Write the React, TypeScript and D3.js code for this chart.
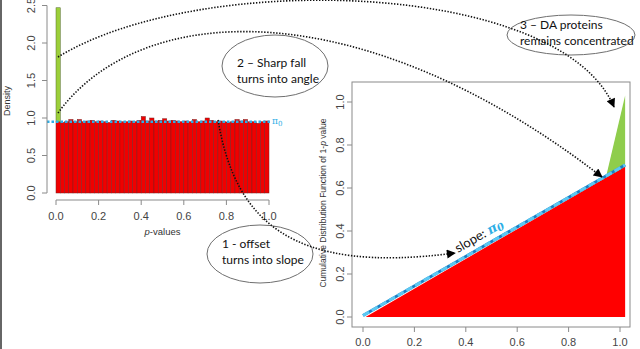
import React, { useEffect, useRef } from 'react'
import * as d3 from 'd3'

// histogram of p-values (50 bins of 0.02)
const binWidth = 0.02
const densities = [
  0.95, 0.94, 0.95, 0.98, 0.95, 0.98, 0.95, 0.96, 0.97, 0.95,
  0.96, 0.95, 0.94, 0.97, 0.96, 0.95, 0.95, 0.96, 0.95, 0.97,
  1.02, 0.96, 1.0, 0.96, 0.97, 0.99, 0.96, 0.97, 0.96, 0.95,
  0.96, 0.95, 0.98, 0.95, 0.96, 1.0, 0.97, 0.95, 0.96, 0.95,
  0.94, 0.95, 0.98, 0.96, 0.98, 0.95, 0.95, 0.93, 0.95, 0.96,
]
const daPeak = 2.47
const pi0 = 0.95

const leftYTicks = [0, 0.5, 1, 1.5, 2, 2.5]
const leftXTicks = [0, 0.2, 0.4, 0.6, 0.8, 1]
const rightTicks = [0, 0.2, 0.4, 0.6, 0.8, 1]

// CDF of 1-p value
const nullArea: [number, number][] = [[0.01, 0], [1.02, 0.7], [1.02, 0]]
const daArea: [number, number][] = [[0.945, 0.649], [1.02, 1.03], [1.02, 0.7]]
const slopeLine: [number, number][] = [[0, 0], [1.02, 0.7]]

const notes = [
  { lines: ['1 - offset', 'turns into slope'], cx: 260, cy: 254, rx: 53, ry: 29, ty: 248 },
  { lines: ['2 \u2013 Sharp fall', 'turns into angle'], cx: 275, cy: 66, rx: 53, ry: 31, ty: 67 },
  { lines: ['3 \u2013 DA proteins', 'remains concentrated'], cx: 571, cy: 35, rx: 64, ry: 20, ty: 29 },
]

const fmt = d3.format('.1f')

export default function App() {
  const svgRef = useRef<SVGSVGElement>(null)

  useEffect(() => {
    if (!svgRef.current) return
    const svg = d3.select(svgRef.current)
    svg.selectAll('*').remove()

    const axisCol = '#8a8a8a'
    const textCol = '#444'
    const blue = '#2eaee6'

    svg.append('line').attr('x1', 1).attr('x2', 1).attr('y1', 0).attr('y2', 349)
      .attr('stroke', '#666').attr('stroke-width', 2)

    // ---------- left panel: histogram ----------
    const lx = d3.scaleLinear().domain([0, 1]).range([56, 269])
    const ly = d3.scaleLinear().domain([0, 2.5]).range([193, 5.5])
    const left = svg.append('g')

    left.selectAll('rect.bar')
      .data(densities)
      .join('rect')
      .attr('class', 'bar')
      .attr('x', (d, i) => lx(i * binWidth))
      .attr('width', lx(binWidth) - lx(0))
      .attr('y', (d) => ly(d))
      .attr('height', (d) => ly(0) - ly(d))
      .attr('fill', '#f00000')
      .attr('stroke', '#7a2020')
      .attr('stroke-width', 0.5)

    left.append('rect')
      .attr('x', lx(0))
      .attr('width', lx(binWidth) - lx(0))
      .attr('y', ly(daPeak))
      .attr('height', ly(densities[0]) - ly(daPeak))
      .attr('fill', '#9ccf3a')
      .attr('stroke', '#556b2f')
      .attr('stroke-width', 0.5)

    left.append('line')
      .attr('x1', 47).attr('x2', 272)
      .attr('y1', ly(pi0)).attr('y2', ly(pi0))
      .attr('stroke', blue).attr('stroke-width', 2.5)
      .attr('stroke-dasharray', '2.5,2')
    left.append('text').attr('x', 272).attr('y', ly(pi0) + 2)
      .attr('fill', blue).style('font-family', 'DejaVu Serif').style('font-size', '9px')
      .text('\u03c0')
      .append('tspan').attr('dy', 2).style('font-size', '7px').text('0')

    // y axis
    left.append('line').attr('x1', 47).attr('x2', 47)
      .attr('y1', ly(0)).attr('y2', ly(2.5)).attr('stroke', axisCol)
    leftYTicks.forEach((t) => {
      left.append('line').attr('x1', 42).attr('x2', 47)
        .attr('y1', ly(t)).attr('y2', ly(t)).attr('stroke', axisCol)
      left.append('text')
        .attr('transform', `translate(35,${ly(t)}) rotate(-90)`)
        .attr('text-anchor', 'middle')
        .attr('fill', textCol)
        .style('font-family', 'Liberation Sans').style('font-size', '11px')
        .text(fmt(t))
    })
    // x axis
    left.append('line').attr('x1', lx(0)).attr('x2', lx(1))
      .attr('y1', 200).attr('y2', 200).attr('stroke', axisCol)
    leftXTicks.forEach((t) => {
      left.append('line').attr('x1', lx(t)).attr('x2', lx(t))
        .attr('y1', 200).attr('y2', 205).attr('stroke', axisCol)
      left.append('text')
        .attr('x', lx(t)).attr('y', 220)
        .attr('text-anchor', 'middle')
        .attr('fill', textCol)
        .style('font-family', 'Liberation Sans').style('font-size', '11px')
        .text(fmt(t))
    })
    left.append('text')
      .attr('transform', 'translate(10,101) rotate(-90)')
      .attr('text-anchor', 'middle').attr('fill', '#333')
      .style('font-family', 'Liberation Sans').style('font-size', '9px')
      .text('Density')
    const xl = left.append('text')
      .attr('x', lx(0.5)).attr('y', 235)
      .attr('text-anchor', 'middle').attr('fill', '#333')
      .style('font-family', 'Liberation Sans').style('font-size', '9.5px')
    xl.append('tspan').style('font-style', 'italic').text('p')
    xl.append('tspan').text('-values')

    // ---------- right panel: CDF ----------
    const rx = d3.scaleLinear().domain([0, 1]).range([363, 620])
    const ry = d3.scaleLinear().domain([0, 1]).range([317, 102])
    const right = svg.append('g')
    const area = d3.line<[number, number]>().x((d) => rx(d[0])).y((d) => ry(d[1]))

    right.append('rect').attr('x', 352).attr('y', 82)
      .attr('width', 278).attr('height', 245)
      .attr('fill', 'none').attr('stroke', axisCol)

    right.append('path').attr('d', area(nullArea) + 'Z').attr('fill', '#ff0000')
    right.append('path').attr('d', area(daArea) + 'Z').attr('fill', '#8fcd4c')
    right.append('path').attr('d', area(slopeLine))
      .attr('transform', 'translate(0,-1.5)')
      .attr('stroke', '#1b7fc4').attr('stroke-width', 3).attr('fill', 'none')
    right.append('path').attr('d', area(slopeLine))
      .attr('transform', 'translate(0,-1.5)')
      .attr('stroke', '#5cc8f2').attr('stroke-width', 3).attr('fill', 'none')
      .attr('stroke-dasharray', '7,3')

    rightTicks.forEach((t) => {
      right.append('line').attr('x1', 347).attr('x2', 352)
        .attr('y1', ry(t)).attr('y2', ry(t)).attr('stroke', axisCol)
      right.append('text')
        .attr('transform', `translate(344,${ry(t)}) rotate(-90)`)
        .attr('text-anchor', 'middle').attr('fill', textCol)
        .style('font-family', 'Liberation Sans').style('font-size', '11px')
        .text(fmt(t))
      right.append('line').attr('x1', rx(t)).attr('x2', rx(t))
        .attr('y1', 327).attr('y2', 332).attr('stroke', axisCol)
      right.append('text')
        .attr('x', rx(t)).attr('y', 346)
        .attr('text-anchor', 'middle').attr('fill', textCol)
        .style('font-family', 'Liberation Sans').style('font-size', '11px')
        .text(fmt(t))
    })
    const yl = right.append('text')
      .attr('transform', 'translate(326,203) rotate(-90)')
      .attr('text-anchor', 'middle').attr('fill', '#333')
      .style('font-family', 'Liberation Sans').style('font-size', '8.5px')
    yl.append('tspan').text('Cumulative Distribution Function of 1-')
    yl.append('tspan').style('font-style', 'italic').text('p')
    yl.append('tspan').text(' value')

    const ang = (Math.atan2(ry(0) - ry(0.7), rx(1.02) - rx(0)) * 180) / Math.PI
    const sl = right.append('text')
      .attr('transform', `translate(458,253) rotate(${-ang})`)
      .style('font-family', 'Lato').style('font-size', '13px')
    sl.append('tspan').attr('fill', '#111').text('slope: ')
    sl.append('tspan').attr('fill', blue).style('font-family', 'DejaVu Serif')
      .style('font-style', 'italic').style('font-weight', 'bold').text('\u03c0')
    sl.append('tspan').attr('fill', blue).style('font-family', 'DejaVu Serif')
      .style('font-style', 'italic').style('font-weight', 'bold')
      .style('font-size', '10px').attr('dy', 2).text('0')

    // ---------- annotations ----------
    notes.forEach((n) => {
      svg.append('ellipse').attr('cx', n.cx).attr('cy', n.cy)
        .attr('rx', n.rx).attr('ry', n.ry)
        .attr('fill', 'none').attr('stroke', '#6f6f6f').attr('stroke-width', 1)
      n.lines.forEach((s, i) => {
        svg.append('text')
          .attr('x', n.cx - n.rx + (n.rx > 60 ? 13 : 15))
          .attr('y', n.ty + i * 16)
          .attr('fill', '#111')
          .style('font-family', 'Lato').style('font-size', '12px')
          .text(s)
      })
    })

    svg.append('defs').append('marker')
      .attr('id', 'arr').attr('viewBox', '0 0 10 10')
      .attr('refX', 9).attr('refY', 5)
      .attr('markerWidth', 11).attr('markerHeight', 9)
      .attr('markerUnits', 'userSpaceOnUse')
      .attr('orient', 'auto')
      .append('path').attr('d', 'M0,0L10,5L0,10Z').attr('fill', '#000')

    const curves = [
      'M58,57 C200,-30 560,-20 614,107',
      'M58,113 C140,0 360,-10 602,177',
      'M218,120 C235,220 290,275 455,253',
    ]
    curves.forEach((d) => {
      svg.append('path').attr('d', d)
        .attr('fill', 'none').attr('stroke', '#111')
        .attr('stroke-width', 1.6).attr('stroke-dasharray', '1.4,1.6')
        .attr('marker-end', 'url(#arr)')
    })
  }, [])

  return (
    <svg ref={svgRef} width={640} height={349}
      style={{ position: 'absolute', left: 0, top: 0, background: '#fff' }} />
  )
}
